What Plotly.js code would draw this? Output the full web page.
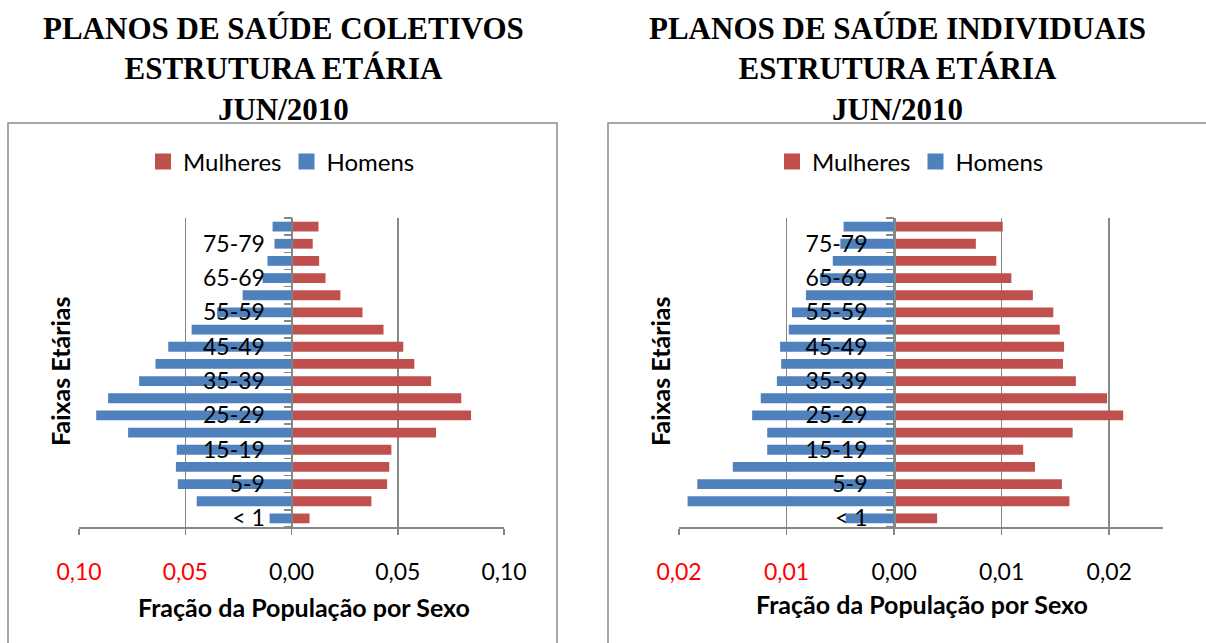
<!DOCTYPE html>
<html>
<head>
<meta charset="utf-8">
<script src="https://cdn.plot.ly/plotly-3.0.1.min.js"></script>
<style>html,body{margin:0;padding:0;background:#fff;}#chart{width:1206px;height:643px;}</style>
</head>
<body>
<div id="chart"></div>
<script>
// ---- data ----
const categorias = ['< 1','1-4','5-9','10-14','15-19','20-24','25-29','30-34','35-39','40-44','45-49','50-54','55-59','60-64','65-69','70-74','75-79','80+'];
const colHomens   = [0.0103,0.0446,0.0535,0.0544,0.0540,0.0769,0.0919,0.0863,0.0717,0.0640,0.0580,0.0470,0.0350,0.0230,0.0136,0.0113,0.0080,0.0089];
const colMulheres = [0.0085,0.0376,0.0450,0.0460,0.0470,0.0680,0.0845,0.0799,0.0657,0.0578,0.0526,0.0433,0.0334,0.0230,0.0160,0.0130,0.0100,0.0127];
const indHomens   = [0.0045,0.0192,0.0183,0.0150,0.0118,0.0118,0.0132,0.0124,0.0109,0.0105,0.0106,0.0098,0.0095,0.0082,0.0069,0.0057,0.0050,0.0047];
const indMulheres = [0.0040,0.0163,0.0156,0.0131,0.0120,0.0166,0.0213,0.0198,0.0169,0.0157,0.0158,0.0154,0.0148,0.0129,0.0109,0.0095,0.0076,0.0101];
const series = ['Mulheres', 'Homens'];
const colTicks = [-0.10,-0.05,0,0.05,0.10];
const indTicks = [-0.02,-0.01,0,0.01,0.02];
const titulos = ['PLANOS DE SAÚDE COLETIVOS<br>ESTRUTURA ETÁRIA<br>JUN/2010','PLANOS DE SAÚDE INDIVIDUAIS<br>ESTRUTURA ETÁRIA<br>JUN/2010'];
const tituloX = 'Fração da População por Sexo';
const tituloY = 'Faixas Etárias';

// ---- layout helpers ----
const W = 1206, H = 643;
const px = v => v / W;
const py = v => (H - v) / H;
const RED = '#C0504D', BLUE = '#4F81BD', GRID = '#878787';
const FONT = 'Lato, "Open Sans", sans-serif';
const SERIF = '"Liberation Serif", "Times New Roman", serif';
const idx = categorias.map((c, i) => i);
const fmt = v => {
  const s = Math.abs(v).toFixed(2).replace('.', ',');
  return v < 0 ? '<span style="color:#FF0000">' + s + '</span>' : s;
};

const yDom = [py(527), py(218)];
const leftDom = [px(79), px(504)];
const rightDom = [px(679), px(1163)];
const colRange = [-0.10, 0.10];
const indRange = [-0.02, 0.025];
const zeroPos = (dom, r) => dom[0] + (0 - r[0]) / (r[1] - r[0]) * (dom[1] - dom[0]);

function xAxis(dom, range, ticks, anchor) {
  return {
    domain: dom, range: range, anchor: anchor,
    tickmode: 'array', tickvals: ticks, ticktext: ticks.map(fmt),
    showgrid: true, gridcolor: GRID, gridwidth: 1.5, zeroline: false,
    showline: true, linecolor: GRID, linewidth: 1.5,
    ticks: 'outside', ticklen: 6, tickcolor: GRID, tickwidth: 1.5,
    ticklabelstandoff: 18,
    tickfont: {family: FONT, size: 23, color: '#000'}, fixedrange: true
  };
}
function yAxis(pos) {
  return {
    domain: yDom, range: [-0.5, categorias.length - 0.5],
    anchor: 'free', position: pos,
    tickmode: 'array', tickvals: idx.filter(i => i % 2 === 0),
    ticktext: categorias.filter((c, i) => i % 2 === 0),
    ticks: '', showgrid: false, zeroline: false,
    showline: true, linecolor: GRID, linewidth: 1.5,
    minor: {ticks: 'outside', ticklen: 8, tickcolor: GRID, tickwidth: 1.5, tickmode: 'linear', tick0: -0.5, dtick: 1, showgrid: false},
    ticklabelstandoff: 22,
    tickfont: {family: FONT, size: 23, color: '#000'}, fixedrange: true, layer: 'above traces'
  };
}

function barTrace(name, vals, sign, color, xa, ya) {
  return {type: 'bar', orientation: 'h', name: name, y: idx, x: vals.map(v => sign * v),
    marker: {color: color}, xaxis: xa, yaxis: ya, showlegend: false, hoverinfo: 'skip'};
}
function legendTrace(name, color, xa, ya, lg) {
  return {type: 'scatter', mode: 'markers', name: name, x: [null], y: [null],
    marker: {symbol: 'square', size: 16, color: color}, xaxis: xa, yaxis: ya, legend: lg, hoverinfo: 'skip'};
}

const traces = [
  barTrace(series[0], colMulheres, 1, RED, 'x', 'y'),
  barTrace(series[1], colHomens, -1, BLUE, 'x', 'y'),
  barTrace(series[0], indMulheres, 1, RED, 'x2', 'y2'),
  barTrace(series[1], indHomens, -1, BLUE, 'x2', 'y2'),
  legendTrace(series[0], RED, 'x', 'y', 'legend'),
  legendTrace(series[1], BLUE, 'x', 'y', 'legend'),
  legendTrace(series[0], RED, 'x2', 'y2', 'legend2'),
  legendTrace(series[1], BLUE, 'x2', 'y2', 'legend2')
];

const legendBase = {orientation: 'h', yanchor: 'middle', y: py(162), xanchor: 'left', font: {family: FONT, size: 24, color: '#000'}, traceorder: 'normal', bgcolor: 'rgba(0,0,0,0)', itemwidth: 30};

const layout = {
  width: W, height: H,
  margin: {l: 0, r: 0, t: 0, b: 0},
  paper_bgcolor: '#fff', plot_bgcolor: 'rgba(0,0,0,0)',
  barmode: 'relative', bargap: 0.43,
  showlegend: true,
  legend: Object.assign({}, legendBase, {x: px(143)}),
  legend2: Object.assign({}, legendBase, {x: px(772)}),
  xaxis: xAxis(leftDom, colRange, colTicks, 'y'),
  yaxis: yAxis(zeroPos(leftDom, colRange)),
  xaxis2: xAxis(rightDom, indRange, indTicks, 'y2'),
  yaxis2: yAxis(zeroPos(rightDom, indRange)),
  shapes: [
    {type: 'rect', xref: 'paper', yref: 'paper', x0: px(8), x1: px(557), y0: -0.1, y1: py(123), line: {color: '#8a8a8a', width: 1.5}},
    {type: 'rect', xref: 'paper', yref: 'paper', x0: px(608), x1: 1.1, y0: -0.1, y1: py(123), line: {color: '#8a8a8a', width: 1.5}}
  ],
  annotations: [
    {text: '<b>' + titulos[0] + '</b>', xref: 'paper', yref: 'paper', x: px(283.5), y: py(69), xanchor: 'center', yanchor: 'middle', showarrow: false, align: 'center', font: {family: SERIF, size: 31, color: '#000'}},
    {text: '<b>' + titulos[1] + '</b>', xref: 'paper', yref: 'paper', x: px(897.5), y: py(69), xanchor: 'center', yanchor: 'middle', showarrow: false, align: 'center', font: {family: SERIF, size: 31, color: '#000'}},
    {text: '<b>' + tituloX + '</b>', xref: 'paper', yref: 'paper', x: px(304), y: py(607), xanchor: 'center', yanchor: 'middle', showarrow: false, font: {family: FONT, size: 25, color: '#000'}},
    {text: '<b>' + tituloX + '</b>', xref: 'paper', yref: 'paper', x: px(922), y: py(604), xanchor: 'center', yanchor: 'middle', showarrow: false, font: {family: FONT, size: 25, color: '#000'}},
    {text: '<b>' + tituloY + '</b>', xref: 'paper', yref: 'paper', x: px(60), y: py(371), xanchor: 'center', yanchor: 'middle', textangle: -90, showarrow: false, font: {family: FONT, size: 25, color: '#000'}},
    {text: '<b>' + tituloY + '</b>', xref: 'paper', yref: 'paper', x: px(660), y: py(371), xanchor: 'center', yanchor: 'middle', textangle: -90, showarrow: false, font: {family: FONT, size: 25, color: '#000'}}
  ]
};

Plotly.newPlot('chart', traces, layout, {staticPlot: true, displayModeBar: false});
</script>
</body>
</html>
